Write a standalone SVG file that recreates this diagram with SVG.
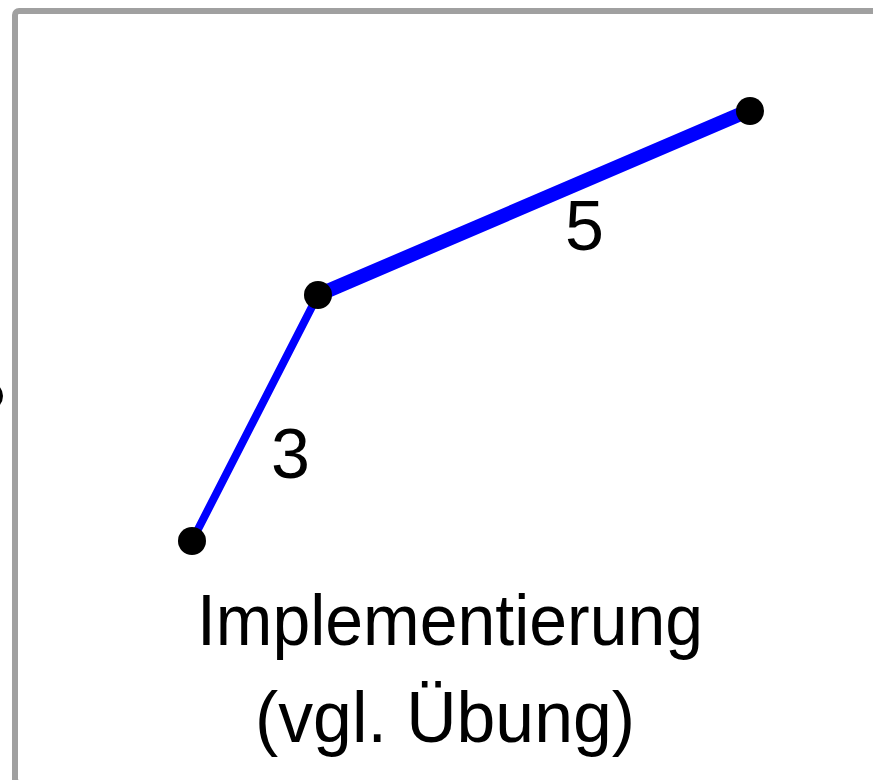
<svg xmlns="http://www.w3.org/2000/svg" width="873" height="780" viewBox="0 0 873 780">
  <style>
    .frame { fill: #ffffff; stroke: #a0a0a0; stroke-width: 6; }
    .edge { stroke: #0000ff; stroke-linecap: round; fill: none; }
    .node { fill: #000000; }
    .lbl { font-family: "Liberation Sans", "DejaVu Sans", sans-serif; fill: #000000; }
  </style>
  <rect class="frame" x="15" y="11" width="900" height="772" rx="4"/>
  <circle class="node" cx="-11" cy="396" r="14"/>
  <g id="connectors">
    <line class="edge" x1="192" y1="541" x2="318" y2="295" stroke-width="8"/>
    <line class="edge" x1="318" y1="295" x2="750" y2="110" stroke-width="14"/>
    <text class="lbl" x="271" y="478" font-size="70">3</text>
    <text class="lbl" x="565" y="250" font-size="70">5</text>
  </g>
  <g id="n1"><circle class="node" cx="192" cy="541" r="14"/></g>
  <g id="n2"><circle class="node" cx="318" cy="295" r="14"/></g>
  <g id="n3"><circle class="node" cx="750" cy="111" r="14"/></g>
  <g id="caption">
    <text class="lbl" x="197" y="645" font-size="72" textLength="506" lengthAdjust="spacingAndGlyphs">Implementierung</text>
    <text class="lbl" x="255" y="742" font-size="72" textLength="380" lengthAdjust="spacingAndGlyphs">(vgl. Übung)</text>
  </g>
</svg>
